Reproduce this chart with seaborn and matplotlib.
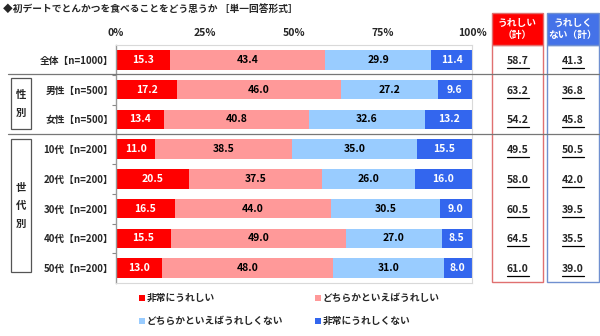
import matplotlib
matplotlib.use("Agg")
import matplotlib.pyplot as plt
from matplotlib.patches import Rectangle
from matplotlib.lines import Line2D
import matplotlib.transforms as mtrans
import seaborn as sns
import pandas as pd
import numpy as np

categories = ["全体【n=1000】", "男性【n=500】", "女性【n=500】", "10代【n=200】",
              "20代【n=200】", "30代【n=200】", "40代【n=200】", "50代【n=200】"]
very_happy = [15.3, 17.2, 13.4, 11.0, 20.5, 16.5, 15.5, 13.0]
somewhat_happy = [43.4, 46.0, 40.8, 38.5, 37.5, 44.0, 49.0, 48.0]
somewhat_not = [29.9, 27.2, 32.6, 35.0, 26.0, 30.5, 27.0, 31.0]
very_not = [11.4, 9.6, 13.2, 15.5, 16.0, 9.0, 8.5, 8.0]
happy_total = [58.7, 63.2, 54.2, 49.5, 58.0, 60.5, 64.5, 61.0]
unhappy_total = [41.3, 36.8, 45.8, 50.5, 42.0, 39.5, 35.5, 39.0]
series_names = ["非常にうれしい", "どちらかといえばうれしい", "どちらかといえばうれしくない", "非常にうれしくない"]
tick_vals = [0, 25, 50, 75, 100]
tick_labels = ["0%", "25%", "50%", "75%", "100%"]

colors = ["#FF0000", "#FF9999", "#99CCFF", "#3366EE"]
text_colors = ["white", "black", "black", "white"]

sns.set_theme(style="white")
plt.rcParams['font.family'] = ['Noto Sans CJK JP', 'DejaVu Sans']
plt.rcParams['font.weight'] = 'bold'

W, H = 600, 336
fig = plt.figure(figsize=(6, 3.36), dpi=100)
ax = fig.add_axes([116 / W, 1 - 283 / H, (472 - 116) / W, (283 - 45) / H])

series = [very_happy, somewhat_happy, somewhat_not, very_not]
cum = np.zeros(len(categories))
cums = []
for s in series:
    cum = cum + np.array(s)
    cums.append(cum.copy())
# draw cumulative widths from the longest so shorter ones overlay
for i in reversed(range(4)):
    d = pd.DataFrame({"cat": categories, "val": cums[i]})
    sns.barplot(data=d, x="val", y="cat", orient="h", color=colors[i], saturation=1,
                width=0.66, errorbar=None, ax=ax, linewidth=0)

# segment labels
for i, s in enumerate(series):
    left = cums[i] - np.array(s)
    for r, v in enumerate(s):
        ax.text(left[r] + v / 2, r, f"{v:.1f}", ha="center", va="center",
                color=text_colors[i], fontsize=7.5, fontweight="bold")

ax.set_xlim(0, 100)
ax.set_ylim(7.5, -0.5)
ax.set_xlabel("")
ax.set_ylabel("")
ax.xaxis.tick_top()
ax.set_xticks(tick_vals)
ax.set_xticklabels(tick_labels, fontsize=7.5, fontweight="bold")
ax.tick_params(axis="x", length=0, pad=5)
ax.set_yticks(range(len(categories)))
ax.set_yticklabels(categories, fontsize=7, fontweight="bold")
ax.tick_params(axis="y", length=0, pad=2)
ax.set_yticks(np.arange(0.5, 7, 1), minor=True)
ax.tick_params(axis="y", which="minor", length=3, color="#888888", width=0.8, left=True)
for sp in ["top", "right", "bottom"]:
    ax.spines[sp].set_color("#D9D9D9")
    ax.spines[sp].set_linewidth(0.8)
ax.spines["left"].set_color("#999999")
ax.spines["left"].set_linewidth(1)

def px(x, y):
    return x / W, 1 - y / H

# title
fig.text(3 / W, 1 - 9 / H, "◆初デートでとんかつを食べることをどう思うか ［単一回答形式］",
         fontsize=7, fontweight="bold", va="center", ha="left")

# separator lines
for yy in [74, 133.5]:
    fig.add_artist(Line2D([8 / W, 600 / W], [1 - yy / H, 1 - yy / H], transform=fig.transFigure,
                          color="#777777", lw=0.9))

# group boxes
for (y0, y1, chars, ys) in [(78, 129, ["性", "別"], [95, 113]),
                             (139, 272, ["世", "代", "別"], [188, 206, 224])]:
    fig.add_artist(Rectangle(px(11, y1), 20 / W, (y1 - y0) / H, transform=fig.transFigure,
                             fill=False, edgecolor="#555555", lw=0.9))
    for c, yc in zip(chars, ys):
        fig.text(21 / W, 1 - yc / H, c, fontsize=7.5, fontweight="bold", ha="center", va="center")

# right summary columns
cols = [(492, 543, "#FF0000", "#E07070", "うれしい\n（計）", happy_total),
        (547, 599, "#4472E8", "#7090D0", "うれしく\nない（計）", unhappy_total)]
trans = mtrans.blended_transform_factory(ax.transAxes, ax.transData)
for (x0, x1, fc, ec, head, vals) in cols:
    fig.add_artist(Rectangle(px(x0, 282), (x1 - x0) / W, (282 - 45) / H, transform=fig.transFigure,
                             fill=False, edgecolor=ec, lw=1))
    fig.add_artist(Rectangle(px(x0, 45), (x1 - x0) / W, (45 - 13) / H, transform=fig.transFigure,
                             facecolor=fc, edgecolor=ec, lw=1))
    fig.text((x0 + x1) / 2 / W, 1 - 29 / H, head, color="white", fontsize=7, fontweight="bold",
             ha="center", va="center", linespacing=1.3)
    xc = (x0 + x1) / 2
    xa = (xc - 116) / (472 - 116)
    half = 11 / (472 - 116)
    for r, v in enumerate(vals):
        ax.text(xa, r + 0.03, f"{v:.1f}", transform=trans, ha="center", va="center",
                fontsize=7.5, fontweight="bold", clip_on=False)
        ax.add_line(Line2D([xa - half, xa + half], [r + 0.27, r + 0.27], transform=trans,
                           color="black", lw=0.9, clip_on=False))

# legend
leg = [(142, 298, 0), (318, 298, 1), (142, 321, 2), (318, 321, 3)]
for (x, y, i) in leg:
    fig.add_artist(Rectangle(px(x - 3, y + 3), 6 / W, 6 / H, transform=fig.transFigure,
                             facecolor=colors[i], edgecolor="none"))
    fig.text((x + 5) / W, 1 - y / H, series_names[i], fontsize=7, fontweight="bold",
             ha="left", va="center")

fig.savefig("out.png", dpi=100, facecolor="white")
